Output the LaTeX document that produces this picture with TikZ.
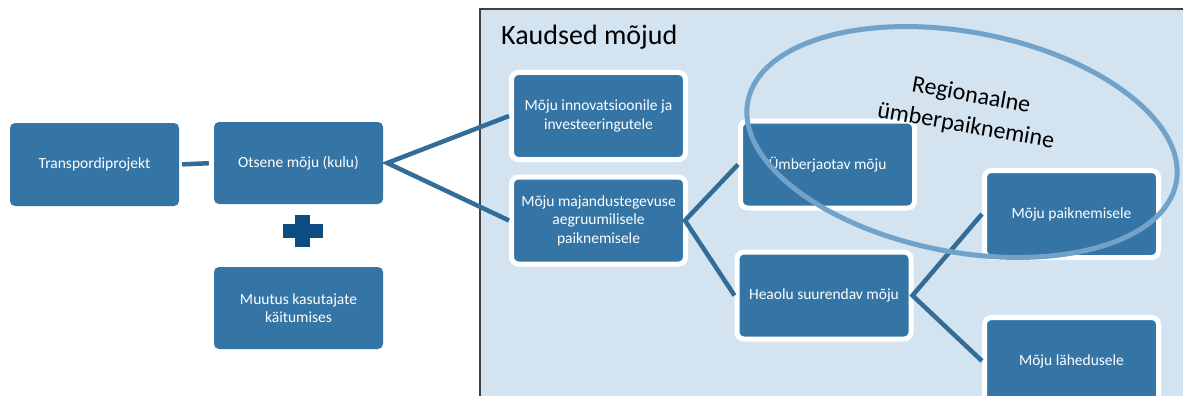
\documentclass[tikz,border=0pt]{standalone}
\usepackage{fontspec}
\setmainfont{Carlito}
\definecolor{boxblue}{RGB}{52,117,166}
\definecolor{connblue}{RGB}{50,108,153}
\definecolor{panelfill}{RGB}{211,227,240}
\definecolor{panelline}{RGB}{64,64,64}
\definecolor{ellblue}{RGB}{112,162,202}
\definecolor{plusblue}{RGB}{12,76,128}
\tikzset{
  plainbox/.style={fill=boxblue, draw=none, minimum width=169pt, minimum height=82pt,
    rounded corners=5pt, text=white, align=center, inner sep=0pt,
    font=\fontsize{15.5}{18.5}\selectfont},
  wbox/.style={fill=boxblue, draw=white, line width=5pt, minimum width=174pt, minimum height=87pt,
    rounded corners=7pt, text=white, align=center, inner sep=0pt,
    font=\fontsize{15.5}{18.5}\selectfont},
  conn/.style={draw=connblue, line width=4.5pt},
  regtext/.style={text=black, font=\fontsize{24}{31}\selectfont, inner sep=0pt, align=center, rotate=-10}
}
\begin{document}
\begin{tikzpicture}[x=1pt,y=-1pt]
\useasboundingbox (0,0) rectangle (1183,396);
\clip (0,0) rectangle (1183,396);
% panel
\draw[fill=panelfill, draw=panelline, line width=2pt] (480,9) rectangle (1230,440);
\node[anchor=base west, inner sep=0pt, font=\fontsize{28}{32}\selectfont] (title) at (501,45) {Kaudsed mõjud};
% left boxes
\node[plainbox, minimum height=83pt] (tp) at (94.5,164.5) {Transpordiprojekt};
\node[plainbox] (ot) at (298.5,163) {Otsene mõju (kulu)};
\node[plainbox] (mu) at (298.5,308) {Muutus kasutajate\\käitumises};
% plus sign
\fill[plusblue] (283,224) rectangle (323,238);
\fill[plusblue] (295,215) rectangle (310,247);
% panel boxes
\node[wbox] (in) at (598.5,116) {Mõju innovatsioonile ja\\investeeringutele};
\node[wbox] (ma) at (598.5,220.5) {Mõju majandustegevuse\\aegruumilisele\\paiknemisele};
\node[wbox] (um) at (827.5,164.5) {Ümberjaotav mõju};
\node[wbox] (he) at (824,295.5) {Heaolu suurendav mõju};
\node[wbox] (pa) at (1071.5,214) {Mõju paiknemisele};
\node[wbox] (la) at (1071.5,361) {Mõju lähedusele};
% connectors
\draw[conn, shorten <=3pt, shorten >=5pt] (tp.east) -- (ot.west);
\coordinate (f1) at ([xshift=4pt]ot.east);
\draw[conn] (in.west) -- (f1) -- (ma.west);
\coordinate (f2) at ([xshift=-3pt]ma.east);
\draw[conn] (um.west) -- (f2) -- (he.west);
\coordinate (f3) at ([xshift=-1pt]he.east);
\draw[conn] (pa.west) -- (f3) -- (la.west);
% ellipse
\draw[ellblue, line width=5pt, rotate around={-10.7:(962,142)}] (962,142) ellipse [x radius=218, y radius=110];
\node[regtext] (reg) at (968.5,111) {Regionaalne\\ümberpaiknemine};
\end{tikzpicture}
\end{document}
